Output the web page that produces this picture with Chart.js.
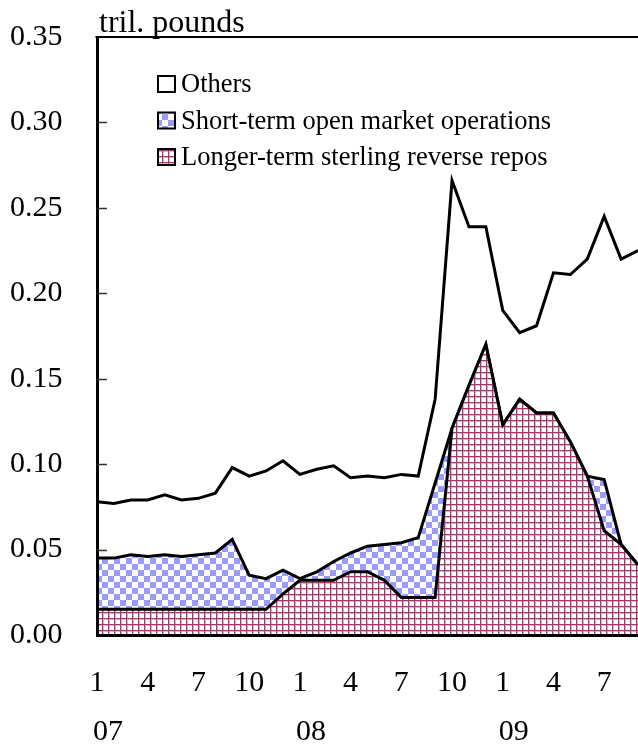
<!DOCTYPE html>
<html>
<head>
<meta charset="utf-8">
<script src="https://cdn.jsdelivr.net/npm/chart.js@4/dist/chart.umd.min.js"></script>
<style>
html,body{margin:0;padding:0;background:#fff;overflow:hidden}
#wrap{width:638px;height:746px;position:relative}
</style>
</head>
<body>
<div id="wrap"><canvas id="c" width="638" height="746"></canvas></div>
<script>
// ---- data ----
const categories = [
  '2007-01','2007-02','2007-03','2007-04','2007-05','2007-06','2007-07','2007-08','2007-09','2007-10','2007-11','2007-12',
  '2008-01','2008-02','2008-03','2008-04','2008-05','2008-06','2008-07','2008-08','2008-09','2008-10','2008-11','2008-12',
  '2009-01','2009-02','2009-03','2009-04','2009-05','2009-06','2009-07','2009-08','2009-09'
];
const monthLabels = [
  '1','','','4','','','7','','','10','','',
  '1','','','4','','','7','','','10','','',
  '1','','','4','','','7','',''
];
// trillion pounds, stacked components
const repos = [
  0.015,0.015,0.015,0.015,0.015,0.015,0.015,0.015,0.015,0.015,0.015,0.024,
  0.032,0.032,0.032,0.037,0.037,0.032,0.022,0.022,0.022,0.121,0.146,0.170,
  0.123,0.138,0.130,0.130,0.113,0.093,0.061,0.053,0.041
];
const shortTerm = [
  0.030,0.030,0.032,0.031,0.032,0.031,0.032,0.033,0.041,0.020,0.018,0.014,
  0.001,0.005,0.011,0.011,0.015,0.021,0.032,0.035,0.067,0.000,0.000,0.000,
  0.000,0.000,0.000,0.000,0.000,0.000,0.030,0.000,0.000
];
const others = [
  0.033,0.032,0.032,0.033,0.035,0.033,0.033,0.035,0.042,0.058,0.063,0.064,
  0.061,0.060,0.056,0.044,0.041,0.039,0.040,0.036,0.049,0.145,0.093,0.069,
  0.067,0.039,0.051,0.082,0.098,0.127,0.154,0.167,0.184
];
const seriesNames = ['Longer-term sterling reverse repos','Short-term open market operations','Others'];
const unitLabel = 'tril. pounds';
const yMin = 0, yMax = 0.35, yStep = 0.05;

// ---- patterns ----
function gridPattern(){
  const c = document.createElement('canvas'); c.width = 6; c.height = 6;
  const g = c.getContext('2d');
  g.fillStyle = '#fff'; g.fillRect(0,0,6,6);
  g.fillStyle = '#e2b3cb'; g.fillRect(0,1,6,1); g.fillRect(1,0,1,6);
  g.fillStyle = '#a3386f'; g.fillRect(0,0,6,1); g.fillRect(0,0,1,6);
  return c.getContext('2d').createPattern(c,'repeat');
}
function checkPattern(){
  const c = document.createElement('canvas'); c.width = 12; c.height = 12;
  const g = c.getContext('2d');
  g.fillStyle = '#fff'; g.fillRect(0,0,12,12);
  g.fillStyle = '#9a9aff'; g.fillRect(0,0,6,6); g.fillRect(6,6,6,6);
  return g.createPattern(c,'repeat');
}
const gridPat = gridPattern();
const checkPat = checkPattern();

const SERIF = '"Liberation Serif","Times New Roman",serif';

const decor = {
  id: 'decor',
  afterDraw(chart){
    const {ctx, chartArea:a, scales:{x, y}} = chart;
    ctx.save();
    // top frame line
    ctx.strokeStyle = '#000'; ctx.lineWidth = 2;
    ctx.beginPath(); ctx.moveTo(a.left - 1.5, a.top); ctx.lineTo(a.right, a.top); ctx.stroke();
    // inner tick marks
    ctx.strokeStyle = '#333'; ctx.lineWidth = 1.5;
    y.ticks.forEach(t => {
      if (t.value <= yMin + 1e-9 || t.value >= yMax - 1e-9) return;
      const py = Math.round(y.getPixelForValue(t.value)) + 0.5;
      ctx.beginPath(); ctx.moveTo(a.left, py); ctx.lineTo(a.left + 10, py); ctx.stroke();
    });
    // unit label
    ctx.fillStyle = '#000';
    ctx.font = '32px ' + SERIF;
    ctx.textAlign = 'left'; ctx.textBaseline = 'alphabetic';
    ctx.fillText(unitLabel, a.left + 2, a.top - 5);
    // year row
    ctx.font = '30px ' + SERIF;
    ctx.textBaseline = 'middle';
    categories.forEach((c, i) => {
      if (c.endsWith('-01')) ctx.fillText(c.slice(2, 4), x.getPixelForValue(i) - 4, 732);
    });
    // legend
    ctx.font = '26.5px ' + SERIF;
    ctx.textBaseline = 'alphabetic';
    const order = [2, 1, 0];
    order.forEach((di, k) => {
      const ds = chart.data.datasets[di];
      const top = 76 + k * 36.5;
      ctx.fillStyle = ds.backgroundColor;
      ctx.fillRect(158, top, 17, 16);
      ctx.strokeStyle = '#000'; ctx.lineWidth = 2;
      ctx.strokeRect(158, top, 17, 16);
      ctx.fillStyle = '#000';
      ctx.fillText(ds.label, 181, top + 16);
    });
    ctx.restore();
  }
};

const common = {borderColor:'#000', borderWidth:3, pointRadius:0, pointHoverRadius:0, tension:0, borderJoinStyle:'miter'};

new Chart(document.getElementById('c'), {
  type: 'line',
  data: {
    labels: categories,
    datasets: [
      Object.assign({label: seriesNames[0], data: repos, backgroundColor: gridPat, fill: 'origin'}, common),
      Object.assign({label: seriesNames[1], data: shortTerm, backgroundColor: checkPat, fill: '-1'}, common),
      Object.assign({label: seriesNames[2], data: others, backgroundColor: '#fff', fill: '-1'}, common)
    ]
  },
  options: {
    responsive: false,
    animation: false,
    devicePixelRatio: 1,
    layout: {padding: {left: 10, top: 37, right: 0, bottom: 0}},
    plugins: {legend: {display: false}, tooltip: {enabled: false}},
    scales: {
      x: {
        type: 'category',
        offset: false,
        grid: {display: false, drawTicks: false},
        border: {display: true, color: '#000', width: 3, z: 1},
        ticks: {
          autoSkip: false, maxRotation: 0, minRotation: 0,
          callback: (v, i) => monthLabels[i],
          font: {family: SERIF, size: 30}, color: '#000', padding: 30
        },
        afterFit: s => { s.height = 111; s.paddingRight = 0; s.paddingLeft = 0; }
      },
      y: {
        stacked: true,
        min: yMin, max: yMax,
        grid: {display: false, drawTicks: false},
        border: {display: true, color: '#000', width: 3, z: 1},
        ticks: {
          stepSize: yStep,
          callback: v => Number(v).toFixed(2),
          font: {family: SERIF, size: 30}, color: '#000',
          crossAlign: 'far'
        },
        afterFit: s => { s.width = 87; s.paddingTop = 0; s.paddingBottom = 0; }
      }
    }
  },
  plugins: [decor]
});
</script>
</body>
</html>
